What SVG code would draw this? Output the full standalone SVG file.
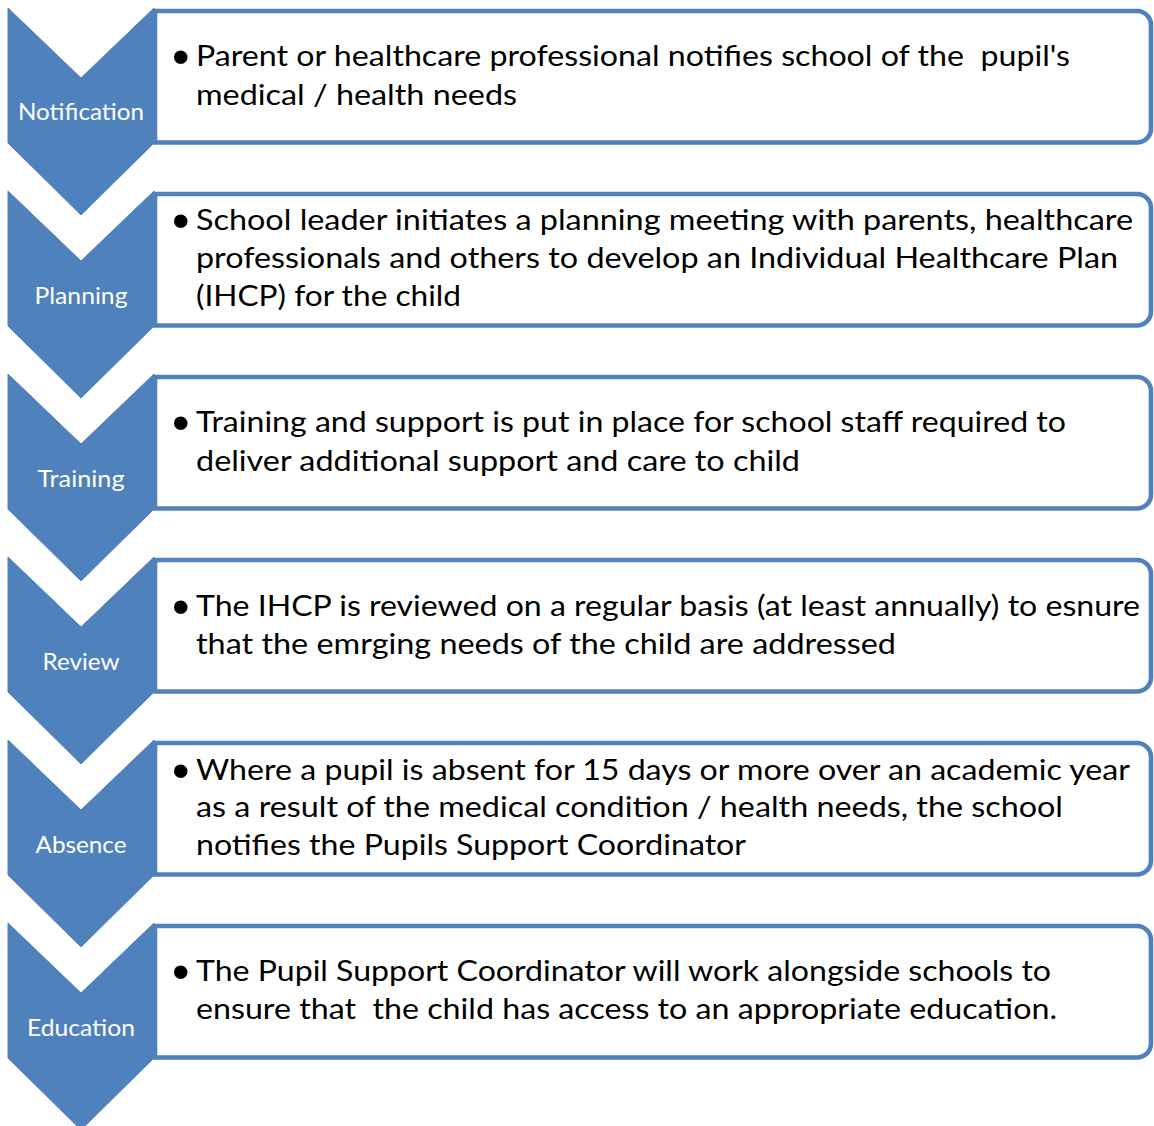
<svg xmlns="http://www.w3.org/2000/svg" width="1154" height="1126" viewBox="0 0 1154 1126">
<style>
.chev{fill:#4F81BD;stroke:#4F81BD;stroke-width:1;stroke-linejoin:round}
.box{fill:#FFFFFF;stroke:#4F81BD;stroke-width:4.6}
.lab{font-family:Lato,"Liberation Sans",sans-serif;font-size:23px;fill:#FFFFFF;text-anchor:middle}
.txt{font-family:Lato,"Liberation Sans",sans-serif;font-size:28px;fill:#000000}
.bul{font-family:"Liberation Sans",sans-serif;font-size:50px;fill:#000000}
</style>
<defs>
<path id="chevron" d="M8,8 L81,78 L154,8 L154,143 L81,215 L8,143 Z"/>
<path id="boxshape" d="M155,11 H1137 A14,14 0 0 1 1151,25 V128.5 A14,14 0 0 1 1137,142.5 H155 Z"/>
</defs>
<rect width="1154" height="1126" fill="#FFFFFF"/>

<g id="step-notification">
<use href="#chevron" class="chev"/>
<use href="#boxshape" class="box"/>
<text class="lab" x="81" y="120" textLength="126" lengthAdjust="spacingAndGlyphs">Notification</text>
<text class="bul" x="172" y="74">•</text>
<text class="txt" x="196" y="66" textLength="874" lengthAdjust="spacingAndGlyphs" xml:space="preserve">Parent or healthcare professional notifies school of the  pupil's</text>
<text class="txt" x="196" y="105" textLength="321" lengthAdjust="spacingAndGlyphs">medical / health needs</text>
</g>

<g id="step-planning" transform="translate(0,183)">
<use href="#chevron" class="chev"/>
<use href="#boxshape" class="box"/>
<text class="lab" x="81" y="121" textLength="93" lengthAdjust="spacingAndGlyphs">Planning</text>
<text class="bul" x="172" y="55">•</text>
<text class="txt" x="196" y="47" textLength="937" lengthAdjust="spacingAndGlyphs">School leader initiates a planning meeting with parents, healthcare</text>
<text class="txt" x="196" y="85" textLength="922" lengthAdjust="spacingAndGlyphs">professionals and others to develop an Individual Healthcare Plan</text>
<text class="txt" x="196" y="123" textLength="265" lengthAdjust="spacingAndGlyphs">(IHCP) for the child</text>
</g>

<g id="step-training" transform="translate(0,366)">
<use href="#chevron" class="chev"/>
<use href="#boxshape" class="box"/>
<text class="lab" x="81" y="121" textLength="87" lengthAdjust="spacingAndGlyphs">Training</text>
<text class="bul" x="172" y="74">•</text>
<text class="txt" x="196" y="66" textLength="870" lengthAdjust="spacingAndGlyphs">Training and support is put in place for school staff required to</text>
<text class="txt" x="196" y="105" textLength="604" lengthAdjust="spacingAndGlyphs">deliver additional support and care to child</text>
</g>

<g id="step-review" transform="translate(0,549)">
<use href="#chevron" class="chev"/>
<use href="#boxshape" class="box"/>
<text class="lab" x="81" y="121" textLength="77" lengthAdjust="spacingAndGlyphs">Review</text>
<text class="bul" x="172" y="75">•</text>
<text class="txt" x="196" y="67" textLength="944" lengthAdjust="spacingAndGlyphs">The IHCP is reviewed on a regular basis (at least annually) to esnure</text>
<text class="txt" x="196" y="105" textLength="700" lengthAdjust="spacingAndGlyphs">that the emrging needs of the child are addressed</text>
</g>

<g id="step-absence" transform="translate(0,732)">
<use href="#chevron" class="chev"/>
<use href="#boxshape" class="box"/>
<text class="lab" x="81" y="121" textLength="91" lengthAdjust="spacingAndGlyphs">Absence</text>
<text class="bul" x="172" y="56">•</text>
<text class="txt" x="196" y="48" textLength="934" lengthAdjust="spacingAndGlyphs">Where a pupil is absent for 15 days or more over an academic year</text>
<text class="txt" x="196" y="85" textLength="867" lengthAdjust="spacingAndGlyphs">as a result of the medical condition / health needs, the school</text>
<text class="txt" x="196" y="123" textLength="550" lengthAdjust="spacingAndGlyphs">notifies the Pupils Support Coordinator</text>
</g>

<g id="step-education" transform="translate(0,915)">
<use href="#chevron" class="chev"/>
<use href="#boxshape" class="box"/>
<text class="lab" x="81" y="121" textLength="108" lengthAdjust="spacingAndGlyphs">Education</text>
<text class="bul" x="172" y="74">•</text>
<text class="txt" x="196" y="66" textLength="855" lengthAdjust="spacingAndGlyphs">The Pupil Support Coordinator will work alongside schools to</text>
<text class="txt" x="196" y="104" textLength="861" lengthAdjust="spacingAndGlyphs" xml:space="preserve">ensure that  the child has access to an appropriate education.</text>
</g>
</svg>
